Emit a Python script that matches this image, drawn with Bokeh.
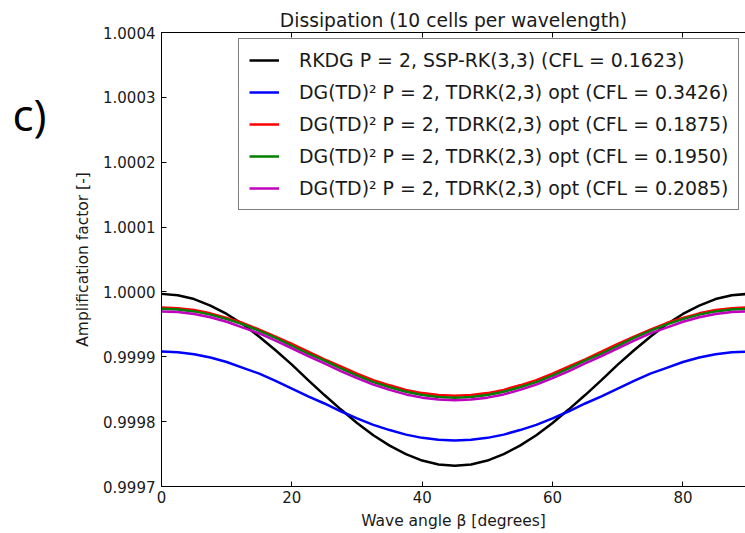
from bokeh.plotting import figure
from bokeh.models import (Legend, LegendItem, LinearAxis, FixedTicker,
                          PrintfTickFormatter, Range1d)
from bokeh.embed import file_html
from bokeh.resources import INLINE

# ---- data ----
beta = [0, 2.5, 5, 7.5, 10, 12.5, 15, 17.5, 20, 22.5, 25, 27.5, 30, 32.5, 35, 37.5, 40, 42.5, 45,
        47.5, 50, 52.5, 55, 57.5, 60, 62.5, 65, 67.5, 70, 72.5, 75, 77.5, 80, 82.5, 85, 87.5, 90]

rkdg = [0.999997, 0.999995, 0.999989, 0.999979, 0.999966, 0.999950, 0.999931, 0.999910, 0.999888,
        0.999864, 0.999841, 0.999819, 0.999798, 0.999779, 0.999763, 0.999750, 0.999740, 0.999734,
        0.999732,
        0.999734, 0.999740, 0.999750, 0.999763, 0.999779, 0.999798, 0.999819, 0.999841, 0.999864,
        0.999888, 0.999910, 0.999931, 0.999950, 0.999966, 0.999979, 0.999989, 0.999995, 0.999997]

dg_3426 = [0.999908, 0.999907, 0.999904, 0.999899, 0.999892, 0.999883, 0.999874, 0.999863, 0.999851,
           0.999839, 0.999828, 0.999816, 0.999805, 0.999795, 0.999787, 0.999780, 0.999775, 0.999772,
           0.999771,
           0.999772, 0.999775, 0.999780, 0.999787, 0.999795, 0.999805, 0.999816, 0.999828, 0.999839,
           0.999851, 0.999863, 0.999874, 0.999883, 0.999892, 0.999899, 0.999904, 0.999907, 0.999908]

dg_1875 = [0.999976, 0.999975, 0.999972, 0.999967, 0.999960, 0.999952, 0.999942, 0.999931, 0.999920,
           0.999908, 0.999896, 0.999885, 0.999874, 0.999864, 0.999856, 0.999849, 0.999844, 0.999841,
           0.999840,
           0.999841, 0.999844, 0.999849, 0.999856, 0.999864, 0.999874, 0.999885, 0.999896, 0.999908,
           0.999920, 0.999931, 0.999942, 0.999952, 0.999960, 0.999967, 0.999972, 0.999975, 0.999976]

dg_1950 = [0.999974, 0.999973, 0.999970, 0.999965, 0.999958, 0.999950, 0.999940, 0.999929, 0.999917,
           0.999905, 0.999894, 0.999882, 0.999871, 0.999861, 0.999853, 0.999846, 0.999841, 0.999838,
           0.999837,
           0.999838, 0.999841, 0.999846, 0.999853, 0.999861, 0.999871, 0.999882, 0.999894, 0.999905,
           0.999917, 0.999929, 0.999940, 0.999950, 0.999958, 0.999965, 0.999970, 0.999973, 0.999974]

dg_2085 = [0.999970, 0.999969, 0.999966, 0.999961, 0.999954, 0.999945, 0.999936, 0.999925, 0.999913,
           0.999901, 0.999890, 0.999878, 0.999867, 0.999857, 0.999849, 0.999842, 0.999837, 0.999834,
           0.999833,
           0.999834, 0.999837, 0.999842, 0.999849, 0.999857, 0.999867, 0.999878, 0.999890, 0.999901,
           0.999913, 0.999925, 0.999936, 0.999945, 0.999954, 0.999961, 0.999966, 0.999969, 0.999970]

series_labels = [
    "RKDG P = 2, SSP-RK(3,3) (CFL = 0.1623)",
    "DG(TD)\u00b2 P = 2, TDRK(2,3) opt (CFL = 0.3426)",
    "DG(TD)\u00b2 P = 2, TDRK(2,3) opt (CFL = 0.1875)",
    "DG(TD)\u00b2 P = 2, TDRK(2,3) opt (CFL = 0.1950)",
    "DG(TD)\u00b2 P = 2, TDRK(2,3) opt (CFL = 0.2085)",
]
series_colors = ["#000000", "#0000ff", "#ff0000", "#008000", "#bf00bf"]
x_ticks = [0, 20, 40, 60, 80]
y_ticks = [0.9997, 0.9998, 0.9999, 1.0000, 1.0001, 1.0002, 1.0003, 1.0004]
title_text = "Dissipation (10 cells per wavelength)"
panel_text = "c)"

FONT = "DejaVu Sans"
TXT = "#1a1a1a"

p = figure(width=745, height=533,
           x_range=Range1d(0, 89.6), y_range=Range1d(0.9997, 1.0004),
           output_backend="svg", toolbar_location=None,
           min_border_left=161, min_border_right=0,
           min_border_top=32, min_border_bottom=47)
p.outline_line_color = None
p.xgrid.visible = False
p.ygrid.visible = False
p.background_fill_color = "white"
p.border_fill_color = "white"

p.title.text = title_text
p.title.align = "center"
p.title.text_font = FONT
p.title.text_font_size = "18.7px"
p.title.text_font_style = "normal"
p.title.text_color = TXT
p.title.standoff = 4

for ax in (p.xaxis[0], p.yaxis[0]):
    ax.major_tick_in = 5
    ax.major_tick_out = 0
    ax.minor_tick_line_color = None
    ax.axis_line_color = "black"
    ax.major_tick_line_color = "black"
    ax.major_label_text_font = FONT
    ax.major_label_text_font_size = "15px"
    ax.major_label_text_color = TXT
    ax.axis_label_text_font = FONT
    ax.axis_label_text_font_size = "15.5px"
    ax.axis_label_text_font_style = "normal"
    ax.axis_label_text_color = TXT

p.xaxis.ticker = FixedTicker(ticks=x_ticks)
p.yaxis.ticker = FixedTicker(ticks=y_ticks)
p.yaxis.formatter = PrintfTickFormatter(format="%.4f")
p.xaxis.axis_label = "Wave angle \u03b2 [degrees]"
p.yaxis.axis_label = "Amplification factor [-]"
p.xaxis.major_label_standoff = 4
p.xaxis.axis_label_standoff = 6
p.yaxis.major_label_standoff = 6
p.yaxis.axis_label_standoff = 8

# top spine with inward ticks, no labels
top_axis = LinearAxis(ticker=FixedTicker(ticks=x_ticks),
                      major_label_overrides={t: "" for t in x_ticks},
                      major_tick_in=5, major_tick_out=0, minor_tick_line_color=None,
                      axis_line_color="black", major_label_standoff=0)
p.add_layout(top_axis, "above")

# outer left "axis" carrying the panel letter
p.extra_y_ranges = {"panel": Range1d(0, 1)}
panel_axis = LinearAxis(y_range_name="panel", ticker=FixedTicker(ticks=[0.82]),
                        major_label_overrides={0.82: panel_text},
                        axis_line_color=None, major_tick_line_color=None,
                        minor_tick_line_color=None, major_tick_in=0, major_tick_out=0,
                        major_label_text_font="Open Sans", major_label_text_font_size="44px",
                        major_label_text_color="black", major_label_standoff=25)
p.add_layout(panel_axis, "left")

series = [rkdg, dg_3426, dg_1875, dg_1950, dg_2085]
items = []
for ys, c, lab in zip(series, series_colors, series_labels):
    r = p.line(beta, ys, line_color=c, line_width=2.5)
    items.append(LegendItem(label=lab, renderers=[r]))

legend = Legend(items=items, location=(77, 276))
legend.label_text_font = FONT
legend.label_text_font_size = "18.9px"
legend.label_text_color = TXT
legend.glyph_width = 30
legend.glyph_height = 22
legend.label_height = 22
legend.label_standoff = 20
legend.spacing = 10
legend.padding = 10
legend.margin = 0
legend.border_line_color = "black"
legend.border_line_width = 1.5
legend.background_fill_alpha = 1
p.add_layout(legend, "center")

open("out.html", "w").write(file_html(p, INLINE))
